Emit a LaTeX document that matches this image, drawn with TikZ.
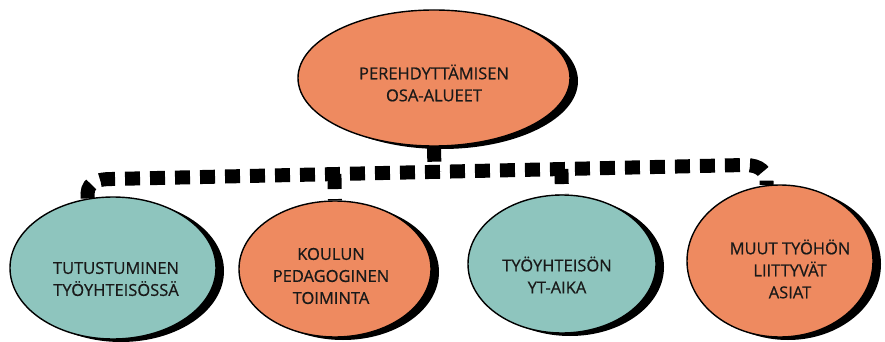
\documentclass[tikz,border=0pt]{standalone}
\usepackage{fontspec}
\setmainfont{Open Sans}
\newfontfamily\medfont{Open Sans}[FakeBold=0.6]
\usetikzlibrary{shapes.geometric,shadows,calc}
\definecolor{orng}{RGB}{238,138,96}
\definecolor{tealc}{RGB}{142,197,190}
\pgfdeclarelayer{bg}
\pgfsetlayers{bg,main}
\begin{document}
\begin{tikzpicture}[x=1pt,y=-1pt,
  blob/.style={ellipse, draw=black, line width=1.4pt, inner sep=0pt,
    drop shadow={shadow xshift=8pt, shadow yshift=-3pt, fill=black, opacity=1}},
  txt/.style={font=\medfont\fontsize{16.5}{22}\selectfont, align=center, text=black!90},
  dashline/.style={line width=14pt, dash pattern=on 15pt off 10pt, draw=black}]
\useasboundingbox (0,0) rectangle (885,342);

\node[blob, fill=orng, minimum width=272pt, minimum height=136pt,
  label={[txt, yshift=-5pt]center:PEREHDYTTÄMISEN\\OSA-ALUEET}] (top) at (434,78) {};
\node[blob, fill=tealc, minimum width=206pt, minimum height=142pt,
  label={[txt, yshift=-11pt, xshift=3pt]center:TUTUSTUMINEN\\TYÖYHTEISÖSSÄ}] (b1) at (113,268) {};
\node[blob, fill=orng, minimum width=192pt, minimum height=136pt,
  label={[txt, yshift=-7pt, xshift=-4pt]center:KOULUN\\PEDAGOGINEN\\TOIMINTA}] (b2) at (335,269) {};
\node[blob, fill=tealc, minimum width=188pt, minimum height=138pt,
  label={[txt, yshift=-11pt, xshift=-5pt]center:TYÖYHTEISÖN\\YT-AIKA}] (b3) at (562,264) {};
\node[blob, fill=orng, minimum width=186pt, minimum height=152pt,
  label={[txt, yshift=-8pt, xshift=10pt]center:MUUT TYÖHÖN\\LIITTYVÄT\\ASIAT}] (b4) at (780,261) {};

\coordinate (hl) at (112,179);
\coordinate (hr) at (745,165);
\begin{pgfonlayer}{bg}
\fill[white] (0,0) rectangle (885,342);
\draw[dashline] (b1.110) .. controls (86,184) and (94,179) .. (hl) -- (hr) .. controls (760,165) and (768,172) .. (b4.100);
\draw[dashline] (top.south) -- ($(hl)!(top.south)!(hr)$);
\draw[dashline] ($(hl)!(b2.north)!(hr)$) -- (b2.north);
\draw[dashline] ($(hl)!(b3.north)!(hr)$) -- (b3.north);
\end{pgfonlayer}
\end{tikzpicture}
\end{document}
